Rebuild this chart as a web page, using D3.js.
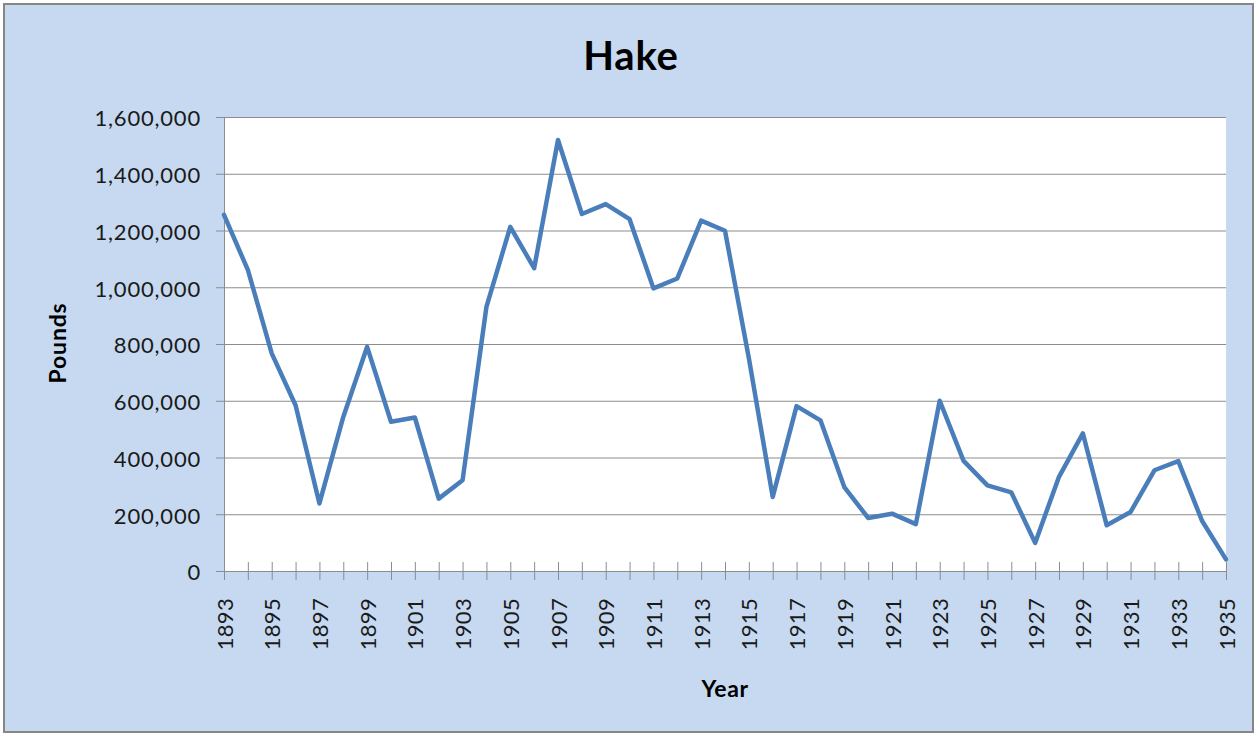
<!DOCTYPE html>
<html><head><meta charset="utf-8">
<script src="https://cdn.jsdelivr.net/npm/d3@7"></script>
<style>body{margin:0;background:#fff;}svg{display:block;font-family:Lato,"Open Sans",sans-serif;}</style>
</head><body>
<svg id="c" width="1257" height="736"></svg>
<script>
const years = d3.range(1893, 1936);
const pounds = [1255000,1061000,767000,584000,238000,543000,790000,526000,541000,255000,
  320000,931000,1213000,1067000,1519000,1258000,1293000,1240000,996000,1031000,
  1235000,1199000,750000,261000,581000,531000,296000,187000,202000,165000,
  600000,388000,302000,277000,99000,332000,485000,161000,208000,355000,
  387000,176000,41000];
const yTicks = [0,200000,400000,600000,800000,1000000,1200000,1400000,1600000];
const xLabelYears = years.filter((y,i)=>i%2===0);
const title = "Hake", xTitle = "Year", yTitle = "Pounds";

const svg = d3.select("#c");
svg.append("rect").attr("x",4).attr("y",4).attr("width",1249).attr("height",728)
  .attr("fill","#C6D9F0").attr("stroke","#868686").attr("stroke-width",2);

const L=224,R=1226,T=117,B=571;
const x = d3.scaleLinear().domain([1893,1935]).range([L,R]);
const y = d3.scaleLinear().domain([0,1600000]).range([B,T]);

svg.append("rect").attr("x",L).attr("y",T).attr("width",R-L).attr("height",B-T).attr("fill","#fff");

// gridlines
svg.append("g").selectAll("line").data(yTicks.filter(d=>d>0)).join("line")
  .attr("x1",L).attr("x2",R).attr("y1",d=>y(d)+0.5).attr("y2",d=>y(d)+0.5)
  .attr("stroke","#8c8c8c").attr("stroke-width",1);

// y axis
const yAxis = svg.append("g").attr("transform",`translate(${L},0)`)
  .call(d3.axisLeft(y).tickValues(yTicks).tickFormat(d3.format(",")).tickSize(8).tickPadding(15));
yAxis.select(".domain").attr("stroke","#8c8c8c");
yAxis.selectAll(".tick line").attr("stroke","#8c8c8c");
yAxis.selectAll("text").attr("font-size",22).attr("letter-spacing","0.8px").attr("fill","#1a1a1a")
  .attr("font-family","Lato,sans-serif").attr("dy","0.4em");

// x axis
const xAxis = svg.append("g").attr("transform",`translate(0,${B})`)
  .call(d3.axisBottom(x).tickValues(years).tickFormat("").tickSize(9).tickSizeOuter(0));
xAxis.select(".domain").attr("stroke","#8c8c8c");
xAxis.selectAll(".tick line").attr("stroke","#8c8c8c").attr("y1",-9);

svg.append("g").selectAll("text").data(xLabelYears).join("text")
  .attr("transform",d=>`translate(${x(d)+8.5},${B+27}) rotate(-90)`)
  .attr("text-anchor","end").attr("font-size",22).attr("letter-spacing","0.3px")
  .attr("fill","#1a1a1a").text(d=>d);

// line
svg.append("path").datum(years.map((yr,i)=>[yr,pounds[i]]))
  .attr("fill","none").attr("stroke","#4A7EBB").attr("stroke-width",4.5)
  .attr("stroke-linejoin","round").attr("stroke-linecap","round")
  .attr("d",d3.line().x(d=>x(d[0])).y(d=>y(d[1])));

// titles
svg.append("text").attr("x",631).attr("y",70).attr("text-anchor","middle")
  .attr("font-size",40).attr("letter-spacing","0.8px").attr("font-weight","bold").text(title);
svg.append("text").attr("x",725).attr("y",697).attr("text-anchor","middle")
  .attr("font-size",23).attr("letter-spacing","0.6px").attr("font-weight","bold").text(xTitle);
svg.append("text").attr("transform","translate(66,343) rotate(-90)").attr("text-anchor","middle")
  .attr("font-size",23).attr("letter-spacing","0.8px").attr("font-weight","bold").text(yTitle);
</script>
</body></html>
